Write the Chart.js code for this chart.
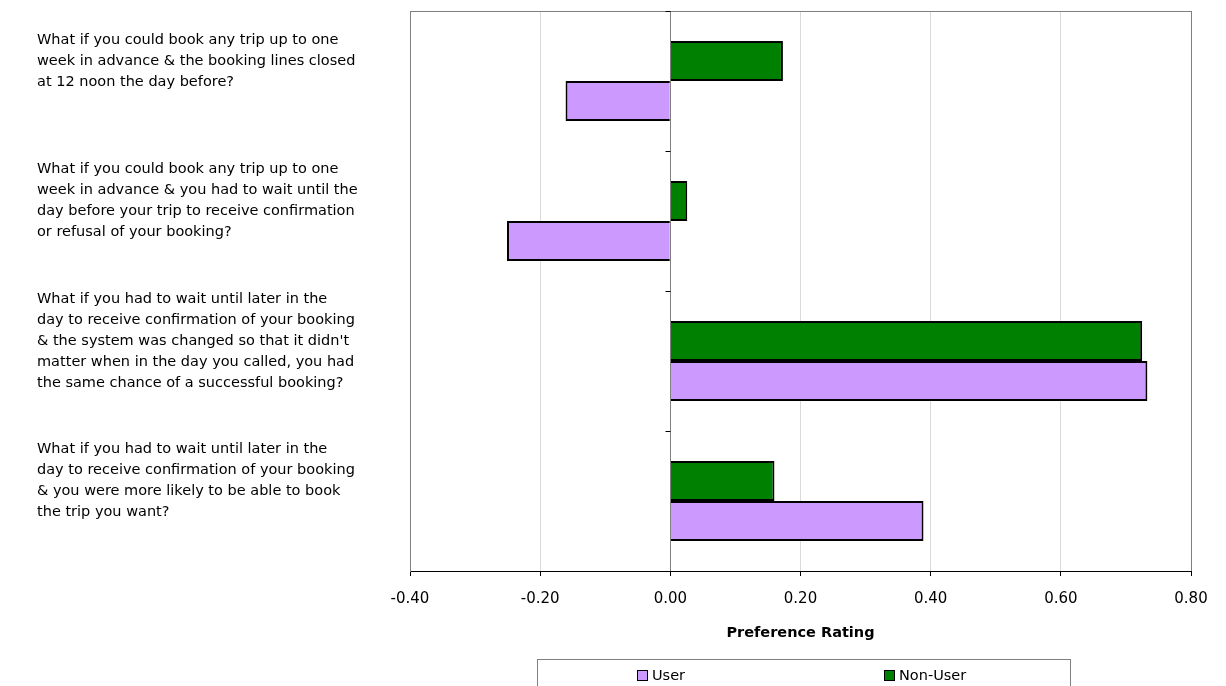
<!DOCTYPE html>
<html>
<head>
<meta charset="utf-8">
<script src="https://cdn.jsdelivr.net/npm/chart.js@4/dist/chart.umd.min.js"></script>
<style>
  html, body { margin: 0; padding: 0; background: #ffffff; }
  #wrap { width: 1226px; height: 686px; position: relative; }
</style>
</head>
<body>
<div id="wrap"><canvas id="chart" width="1226" height="686"></canvas></div>
<script>
// Survey scenarios (one row each, top to bottom)
const questions = [
  ['What if you could book any trip up to one',
   'week in advance & the booking lines closed',
   'at 12 noon the day before?'],
  ['What if you could book any trip up to one',
   'week in advance & you had to wait until the',
   'day before your trip to receive confirmation',
   'or refusal of your booking?'],
  ['What if you had to wait until later in the',
   'day to receive confirmation of your booking',
   "& the system was changed so that it didn't",
   'matter when in the day you called, you had',
   'the same chance of a successful booking?'],
  ['What if you had to wait until later in the',
   'day to receive confirmation of your booking',
   '& you were more likely to be able to book',
   'the trip you want?']
];

// Preference ratings per group
const userRatings    = [-0.161, -0.251, 0.733, 0.389];
const nonUserRatings = [ 0.173,  0.026, 0.725, 0.160];

const seriesNames = ['User', 'Non-User'];
const seriesColors = ['#CC99FF', '#008000'];

const xTicks = [-0.4, -0.2, 0, 0.2, 0.4, 0.6, 0.8];
const xTitle = 'Preference Rating';

const FONT = '"DejaVu Sans", Verdana, sans-serif';

// Plot frame: grey top/right border and the short ticks on the zero line
const framePlugin = {
  id: 'frame',
  afterDraw(chart) {
    const { ctx, chartArea: a, scales: { x, y } } = chart;
    ctx.save();
    ctx.strokeStyle = '#808080';
    ctx.lineWidth = 1;
    ctx.beginPath();
    ctx.moveTo(Math.round(a.left) + 0.5, Math.round(a.top) + 0.5);
    ctx.lineTo(Math.round(a.right) + 0.5, Math.round(a.top) + 0.5);
    ctx.lineTo(Math.round(a.right) + 0.5, Math.round(a.bottom));
    ctx.stroke();

    const x0 = Math.round(x.getPixelForValue(0)) + 0.5;
    ctx.strokeStyle = '#000000';
    ctx.beginPath();
    for (let i = 0; i < questions.length; i++) {
      const yb = i === 0 ? a.top : (y.getPixelForValue(i - 1) + y.getPixelForValue(i)) / 2;
      const yy = Math.round(yb) + 0.5;
      ctx.moveTo(x0 - 5, yy);
      ctx.lineTo(x0, yy);
    }
    ctx.stroke();
    ctx.restore();
  }
};

// Boxed legend below the axis title, User first
const legendPlugin = {
  id: 'boxLegend',
  afterDraw(chart) {
    const { ctx } = chart;
    ctx.save();
    ctx.strokeStyle = '#808080';
    ctx.lineWidth = 1;
    ctx.strokeRect(537.5, 659.5, 533, 40);
    const items = [
      { label: seriesNames[0], color: seriesColors[0], x: 637 },
      { label: seriesNames[1], color: seriesColors[1], x: 884 }
    ];
    ctx.font = '14.5px ' + FONT;
    ctx.textBaseline = 'middle';
    ctx.textAlign = 'left';
    items.forEach(it => {
      ctx.fillStyle = it.color;
      ctx.fillRect(it.x + 0.5, 670.5, 10, 10);
      ctx.strokeStyle = '#000000';
      ctx.strokeRect(it.x + 0.5, 670.5, 10, 10);
      ctx.fillStyle = '#000000';
      ctx.fillText(it.label, it.x + 15, 676);
    });
    ctx.restore();
  }
};

new Chart(document.getElementById('chart'), {
  type: 'bar',
  data: {
    labels: questions,
    datasets: [
      {
        label: seriesNames[1],
        data: nonUserRatings,
        backgroundColor: seriesColors[1],
        borderColor: '#000000',
        borderWidth: 2
      },
      {
        label: seriesNames[0],
        data: userRatings,
        backgroundColor: seriesColors[0],
        borderColor: '#000000',
        borderWidth: 2
      }
    ]
  },
  options: {
    indexAxis: 'y',
    responsive: false,
    animation: false,
    devicePixelRatio: 1,
    categoryPercentage: 0.5714,
    barPercentage: 1,
    layout: { padding: { left: 37, top: 11, right: 35, bottom: 40 } },
    plugins: {
      legend: { display: false },
      tooltip: { enabled: false }
    },
    scales: {
      x: {
        type: 'linear',
        min: -0.4,
        max: 0.8,
        afterBuildTicks(scale) { scale.ticks = xTicks.map(v => ({ value: v })); },
        afterFit(scale) { scale.height = 75; },
        ticks: {
          color: '#000000',
          font: { family: FONT, size: 15 },
          padding: 14,
          callback: v => (Math.abs(v) < 1e-9 ? 0 : v).toFixed(2)
        },
        grid: {
          color: c => {
            const v = c.tick ? c.tick.value : null;
            if (v === null) return '#d9d9d9';
            if (Math.abs(v) < 1e-9 || Math.abs(v - 0.8) < 1e-9 || Math.abs(v + 0.4) < 1e-9) return '#808080';
            return '#d9d9d9';
          },
          tickColor: '#000000',
          tickLength: 5,
          lineWidth: 1
        },
        border: { color: '#000000', width: 1 },
        title: {
          display: true,
          text: xTitle,
          color: '#000000',
          font: { family: FONT, size: 14.5, weight: 'bold' }
        }
      },
      y: {
        type: 'category',
        afterFit(scale) {
          scale.width = 373;
          scale.paddingTop = 0;
          scale.paddingBottom = 0;
        },
        ticks: {
          crossAlign: 'far',
          color: '#000000',
          labelOffset: -20,
          font: { family: FONT, size: 14.5, lineHeight: 1.45 }
        },
        grid: { display: false },
        border: { color: '#808080', width: 1 }
      }
    }
  },
  plugins: [framePlugin, legendPlugin]
});
</script>
</body>
</html>
